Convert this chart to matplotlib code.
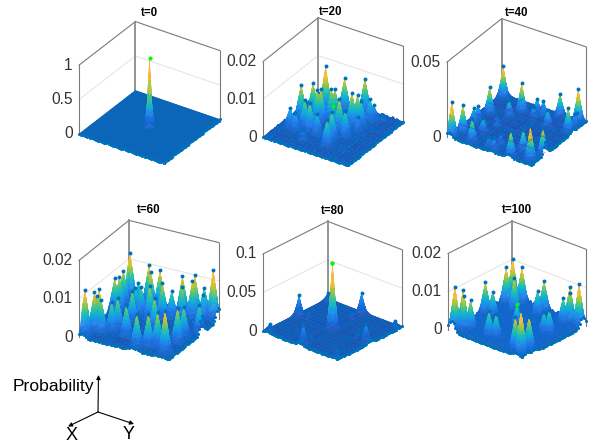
import matplotlib
matplotlib.use('Agg')
import matplotlib.pyplot as plt
import numpy as np
from matplotlib.colors import LinearSegmentedColormap, to_rgba
from mpl_toolkits.mplot3d import proj3d

plt.rcParams['font.family'] = ['Liberation Sans', 'DejaVu Sans']

W, H = 589, 445
N = 41  # lattice sites per side
SUB = 3  # surface cells per site

# peaks: site X, site Y, probability
t0_x = [20]
t0_y = [20]
t0_h = [1.0]

t20_x = [10, 20, 16, 7, 3, 20, 19, 18, 15, 14, 20, 14, 13, 12, 7, 6, 28, 29, 25, 26, 27, 27, 22, 32, 34, 16, 4]
t20_y = [10, 5, 8, 17, 24, 20, 12, 13, 16, 17, 23, 25, 27, 28, 29, 30, 5, 8, 10, 13, 17, 24, 27, 25, 15, 29, 33]
t20_h = [.0119, .009, .0089, .0092, .0092, .0062, .0085, .0088, .0084, .0085, .0087, .0088, .0084, .0068, .0059,
         .0043, .0052, .0048, .0074, .0074, .0056, .0074, .0068, .0069, .003, .0039, .0017]

t40_x = [2, 38, 1, 36, 15, 7, 2, 33, 37, 22, 25, 13, 5, 5, 9, 11, 10, 5, 2, 30, 38, 32, 29, 22, 37, 38, 33]
t40_y = [2, 1, 37, 37, 4, 14, 29, 3, 10, 3, 3, 12, 20, 23, 21, 29, 38, 38, 37, 39, 29, 31, 10, 12, 18, 21, 21]
t40_h = [.021, .0227, .0214, .0216, .0173, .0184, .0151, .0177, .0147, .0091, .0097, .0108, .0097, .0097, .0076,
         .0108, .0156, .0076, .0058, .0169, .0162, .0136, .0097, .0065, .0065, .0076, .0065]

t60_x = [1, 37, 1, 36, 33, 31, 29, 33, 15, 8, 13, 2, 6, 4, 4, 3, 5, 1, 4, 7, 11, 12, 14, 11, 9, 8, 19, 30, 27, 31,
         37, 35, 33, 26, 21, 14, 21]
t60_y = [1, 1, 38, 36, 3, 4, 2, 6, 2, 2, 3, 10, 13, 16, 26, 31, 31, 34, 35, 8, 9, 12, 17, 21, 24, 28, 12, 9, 10, 16,
         24, 28, 31, 36, 36, 39, 23]
t60_h = [.0119, .0116, .0129, .011, .0104, .0107, .008, .0086, .0091, .0092, .0091, .0102, .0101, .0103, .0103,
         .0109, .0099, .0076, .0065, .0067, .0065, .0076, .0089, .0095, .0073, .0088, .0082, .0078, .0082, .0082,
         .0086, .0088, .0091, .0091, .008, .0073, .0086]

t80_x = [20, 20, 2, 38, 20, 38, 2, 2, 38, 20, 8, 33, 20]
t80_y = [20, 2, 20, 20, 38, 2, 2, 38, 38, 7, 20, 20, 33]
t80_h = [.085, .027, .028, .0235, .0235, .0085, .0107, .0077, .007, .0085, .0085, .0045, .005]

t100_x = [2, 6, 2, 9, 38, 34, 36, 34, 19, 19, 2, 6, 2, 2, 3, 5, 20, 37, 36, 32, 34, 33, 17, 16]
t100_y = [2, 2, 7, 9, 2, 3, 5, 7, 2, 6, 19, 19, 38, 33, 34, 32, 20, 37, 33, 37, 17, 20, 32, 34]
t100_h = [.011, .0096, .0096, .0086, .0113, .0097, .009, .0079, .0084, .0067, .0083, .0066, .011, .0094, .0081,
          .0069, .0062, .0112, .0086, .0086, .0067, .0064, .0056, .0064]

titles = ['t=0', 't=20', 't=40', 't=60', 't=80', 't=100']
z_tops = [1, .02, .05, .02, .1, .02]
z_ticks = [[0, .5, 1], [0, .01, .02], [0, .05], [0, .01, .02], [0, .05, .1], [0, .01, .02]]
z_labels = [['0', '0.5', '1'], ['0', '0.01', '0.02'], ['0', '0.05'], ['0', '0.01', '0.02'], ['0', '0.05', '0.1'],
            ['0', '0.01', '0.02']]
floors = [0, 0, 0, 0, 0, .0006]
ripples = [0, .0008, .0012, .0010, .0016, .0008]

# camera and box of every panel
azims = [33.7, 33, 33, 29, 41, 41]
elevs = [31, 31, 31, 26.4, 26, 26]
z_ratio = [.79, .87, .87, .83, .87, .87]

# pixel places in the picture
left_px = [(79, 134), (263, 137), (447, 137), (79, 337), (263, 331), (448, 330)]
right_px = [220, 403, 586, 219, 402, 586]
title_px = [(149, 13), (331, 12), (517, 13), (149, 210), (333, 211), (517, 210)]

peak_x = [t0_x, t20_x, t40_x, t60_x, t80_x, t100_x]
peak_y = [t0_y, t20_y, t40_y, t60_y, t80_y, t100_y]
peak_h = [t0_h, t20_h, t40_h, t60_h, t80_h, t100_h]
green = [True, True, False, False, True, True]
cross_sites = [[], [], [10, 20, 30], [], [20], []]

wide_profile = [1, .62, .25, .08, .02, 0]
slim_profile = [1, .5, .14, .04, .01, 0]
needle_profile = [1, .3, 0, 0, 0, 0]
profiles = [needle_profile, wide_profile, slim_profile, wide_profile, slim_profile, wide_profile]
ripple_tile = np.array([[0, .3, 0, .3, 0],
                        [.3, 1, .3, .8, .3],
                        [0, .3, .1, .3, 0],
                        [.3, .8, .3, 1, .3],
                        [0, .3, 0, .3, 0]])

parula = LinearSegmentedColormap.from_list('parula', ['#0b66ba', '#1668d8', '#2488ee', '#0fb0d8', '#34c69a',
                                                      '#a5c63c', '#f0c238', '#fdb83a'])

fig = plt.figure(figsize=(W / 100, H / 100), dpi=100)


def to_disp(ax, x, y, z):
    px, py, _ = proj3d.proj_transform(x, y, z, ax.get_proj())
    return ax.transData.transform((px, py))


def place(ax, left, right):
    size = 300.0
    ax.set_position([.1, .1, size / W, size / H])
    ax.apply_aspect()
    a = to_disp(ax, N - 1, 0, 0)
    b = to_disp(ax, 0, N - 1, 0)
    size = size * (right - left[0]) / (b[0] - a[0])
    ax.set_position([.1, .1, size / W, size / H])
    ax.apply_aspect()
    a = to_disp(ax, N - 1, 0, 0)
    ax.set_position([.1 + (left[0] - a[0]) / W, .1 + (H - left[1] - a[1]) / H, size / W, size / H])
    ax.apply_aspect()


sites = np.linspace(0, N - 1, (N - 1) * SUB + 1)
sx, sy = np.meshgrid(sites, sites, indexing='ij')

for i in range(6):
    ax = fig.add_subplot(projection='3d', computed_zorder=False, proj_type='ortho')
    ax.set_axis_off()
    ax.patch.set_visible(False)

    top = z_tops[i]
    near = np.rint(sites).astype(int)
    Z = floors[i] + ripple_tile[near[:, None] % 5, near[None, :] % 5] * ripples[i]
    Z[(sx < 1) | (sx > N - 2) | (sy < 1) | (sy > N - 2)] = 0
    for x, y, h in zip(peak_x[i], peak_y[i], peak_h[i]):
        r = np.hypot(sx - x, sy - y)
        Z = np.maximum(Z, h * np.interp(r, np.arange(6), profiles[i]))

    # back walls of the box
    for (xa, ya, xb, yb) in [(N - 1, 0, 0, 0), (0, 0, 0, N - 1)]:
        ax.plot3D([xa, xb], [ya, yb], [top, top], color='#7a7a7a', lw=.8, zorder=1)
        for z in z_ticks[i][1:-1]:
            ax.plot3D([xa, xb], [ya, yb], [z, z], color='#e6e6e6', lw=.8, zorder=1)
    ax.plot3D([N - 1, N - 1], [0, 0], [0, top], color='#7a7a7a', lw=.8, zorder=1)
    ax.plot3D([0, 0], [N - 1, N - 1], [0, top], color='#7a7a7a', lw=.8, zorder=1)
    ax.plot3D([0, 0], [0, 0], [0, top], color='#8a8a8a', lw=1.3, zorder=1)

    # surface, coloured by the mean of each cell
    cell = np.zeros_like(Z)
    cell[:-1, :-1] = (Z[:-1, :-1] + Z[1:, :-1] + Z[:-1, 1:] + Z[1:, 1:]) / 4
    cols = parula(cell / cell.max())
    # floor mesh: dark lines along the lattice
    mesh = (np.arange(len(sites)) % (2 * SUB) == 0)
    low = cell < .06 * cell.max()
    if i > 0:
        cols[low & (mesh[:, None] | mesh[None, :])] = to_rgba('#2b4cb4')
    surf = ax.plot_surface(sx, sy, Z, rstride=1, cstride=1, facecolors=cols, shade=False, lw=.25, zorder=2)
    surf.set_edgecolors(cols[:-1, :-1].reshape(-1, 4))

    for s in cross_sites[i]:
        ax.plot3D([s, s], [0, N - 1], [ripples[i]] * 2, color='#4a2fb0', lw=.7, alpha=.45, zorder=3)
        ax.plot3D([0, N - 1], [s, s], [ripples[i]] * 2, color='#4a2fb0', lw=.7, alpha=.45, zorder=3)

    # dots: front rim and peak tops
    rim = np.arange(N)
    ax.scatter(rim, rim * 0 + N - 1, Z[rim * SUB, -1], s=5, c='#0072BD', depthshade=False, lw=0, zorder=4)
    ax.scatter(rim * 0 + N - 1, rim, Z[-1, rim * SUB], s=5, c='#0072BD', depthshade=False, lw=0, zorder=4)
    if i > 0:
        ax.scatter(peak_x[i], peak_y[i], peak_h[i], s=8, c='#0072BD', depthshade=False, lw=0, zorder=5)
    if green[i]:
        ax.scatter([20], [20], Z[20 * SUB, 20 * SUB], s=9, c='#00ff00', depthshade=False, lw=0, zorder=6)

    ax.set_xlim(0, N - 1)
    ax.set_ylim(0, N - 1)
    ax.set_zlim(0, top)
    ax.set_box_aspect((1, 1, z_ratio[i]))
    ax.view_init(elev=elevs[i], azim=azims[i])
    place(ax, left_px[i], right_px[i])

    for z, lab in zip(z_ticks[i], z_labels[i]):
        px, py, _ = proj3d.proj_transform(N - 1, 0, z, ax.get_proj())
        ax.annotate(lab, (px, py), xytext=(-4.5, 0), textcoords='offset points', ha='right', va='center',
                    fontsize=11.2, color='#333333', annotation_clip=False)

# overlay in picture pixels for titles and the little axes sign
over = fig.add_axes([0, 0, 1, 1])
over.set_xlim(0, W)
over.set_ylim(H, 0)
over.axis('off')
for name, (tx, ty) in zip(titles, title_px):
    over.text(tx, ty, name, ha='center', va='center', fontsize=8.3, fontweight='bold', color='black')

origin = (98, 412)
for tip in [(98.5, 375), (68, 426.5), (134, 424)]:
    over.annotate('', xy=tip, xytext=origin,
                  arrowprops=dict(arrowstyle='-|>', color='black', lw=.8, mutation_scale=6, shrinkA=0, shrinkB=0))
over.text(13, 386, 'Probability', ha='left', va='center', fontsize=12.6, color='black')
over.text(72, 435.5, 'X', ha='center', va='center', fontsize=13, color='black')
over.text(129, 434.5, 'Y', ha='center', va='center', fontsize=13, color='black')

fig.savefig('out.png', dpi=100)
